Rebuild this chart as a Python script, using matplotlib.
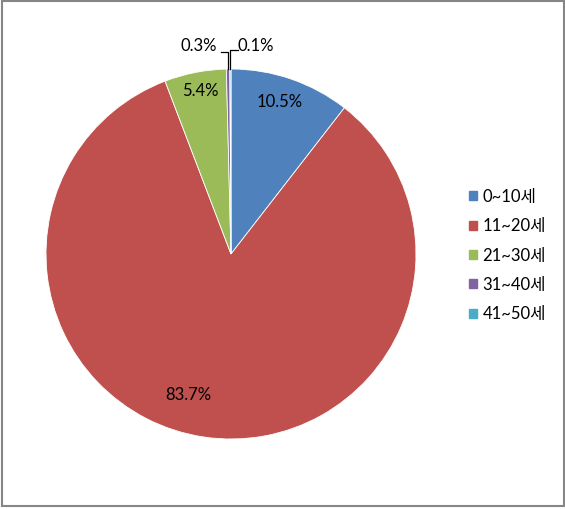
#!/usr/bin/env python3

import matplotlib
matplotlib.use('Agg')
import matplotlib.pyplot as plt
import matplotlib.patches as mpatches
import numpy as np

plt.rcParams['font.family'] = ['Lato', 'Noto Sans CJK KR', 'DejaVu Sans']

# Age groups and their share (%)
categories = ['0~10세', '11~20세', '21~30세', '31~40세', '41~50세']
shares = [10.5, 83.7, 5.4, 0.3, 0.1]
labels = ['10.5%', '83.7%', '5.4%', '0.3%', '0.1%']
colors = ['#4F81BD', '#C0504D', '#9BBB59', '#8064A2', '#4BACC6']

fig = plt.figure(figsize=(5.65, 5.09), dpi=100)
W, H = 565, 509

# pie centre (231, 254) px, radius 185 px
cx, cy, r = 231, 254, 185
ax = fig.add_axes([(cx - r) / W, (H - cy - r) / H, 2 * r / W, 2 * r / H])

wedges, _ = ax.pie(shares, colors=colors, startangle=90, counterclock=False,
                   wedgeprops=dict(edgecolor='white', linewidth=0.6))
ax.set_xlim(-1, 1)
ax.set_ylim(-1, 1)

# Label positions (data units of the pie) - inside end style like Excel
label_pos = [(0.265, 0.822), (-0.232, -0.762), (-0.168, 0.881),
             (-0.173, 1.124), (0.135, 1.124)]
for i, (txt, (x, y)) in enumerate(zip(labels, label_pos)):
    ax.text(x, y, txt, ha='center', va='center', fontsize=12, color='black',
            clip_on=False)

# Leader lines for the tiny slices
for i, side in [(3, -1), (4, 1)]:
    w = wedges[i]
    mid = np.deg2rad((w.theta1 + w.theta2) / 2)
    x0, y0 = np.cos(mid), np.sin(mid)
    ytop = 1.092 if side < 0 else 1.103
    ax.plot([x0, x0, x0 + side * 0.04], [y0, ytop, ytop], color='black',
            linewidth=0.9, clip_on=False)

handles = [mpatches.Patch(color=c, label=l) for c, l in zip(colors, categories)]
fig.legend(handles=handles, loc='center left', bbox_to_anchor=(469 / W, 0.498),
           frameon=False, fontsize=12, handlelength=0.45, handleheight=0.45,
           handletextpad=0.35, labelspacing=0.8, borderpad=0, borderaxespad=0)

# Outer chart border
fig.add_artist(mpatches.Rectangle((1.5 / W, 3 / H), 562 / W, 505 / H,
                                  transform=fig.transFigure, fill=False,
                                  edgecolor='#868686', linewidth=1.5))

plt.savefig('out.png', dpi=100)
plt.close()
